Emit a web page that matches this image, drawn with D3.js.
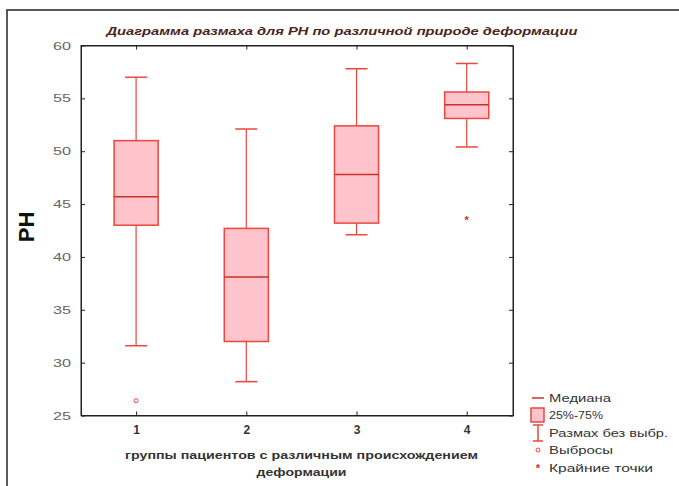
<!DOCTYPE html>
<html><head><meta charset="utf-8">
<script src="https://cdn.jsdelivr.net/npm/d3@7"></script>
<style>body{margin:0;background:#fff}svg{display:block}</style>
</head><body>
<svg id="c" width="679" height="486"></svg>
<script>
const groups = [1, 2, 3, 4];
const q1 = [43.0, 32.0, 43.2, 53.1];
const medians = [45.7, 38.1, 47.8, 54.4];
const q3 = [51.0, 42.7, 52.4, 55.6];
const whiskerLow = [31.6, 28.2, 42.1, 50.4];
const whiskerHigh = [57.0, 52.1, 57.8, 58.3];
const outliers = [[1, 26.4]];
const extremes = [[4, 43.5]];
const yTicks = [25, 30, 35, 40, 45, 50, 55, 60];
const title = "Диаграмма размаха для PH по различной природе деформации";
const yLabel = "PH";
const xLabelLines = ["группы пациентов с различным происхождением", "деформации"];
const legendItems = ["Медиана", "25%-75%", "Размах без выбр.", "Выбросы", "Крайние точки"];

// layout (text stretch widths as in the reference rendering)
const legendWidths = [62, 54, 119, 64, 104];
const xLabelWidths = [353, 90];

const svg = d3.select("#c");
const font = "'Liberation Sans', Arial, sans-serif";
const red = "#e8483e", fill = "#ffc3cb", dark = "#c8302a";
const L = 81, R = 513, T = 45.5, B = 415.5;
const x = d3.scaleLinear().domain([0.5, 4.42]).range([L, R]);
const y = d3.scaleLinear().domain([25, 60]).range([B, T]);

// outer frame
svg.append("path").attr("d", "M7,486 L7,10 L679,10").attr("fill", "none").attr("stroke", "#222").attr("stroke-width", 1.5);

// title
svg.append("text").attr("x", 342).attr("y", 35).attr("text-anchor", "middle")
  .attr("font-family", font).attr("font-size", 11).attr("font-style", "italic").attr("font-weight", "bold")
  .attr("textLength", 471).attr("lengthAdjust", "spacingAndGlyphs")
  .attr("fill", "#4a2420").text(title);

// axes with inner ticks
const ax = svg.append("g").attr("font-family", font);
const axLeft = d3.axisLeft(y).tickValues(yTicks).tickSizeInner(-4).tickSizeOuter(0).tickPadding(10);
const gl = ax.append("g").attr("transform", `translate(${L},0)`).call(axLeft);
gl.selectAll("text").attr("font-size", 11).attr("fill", "#666")
  .attr("textLength", 18).attr("lengthAdjust", "spacingAndGlyphs");
const axRight = d3.axisRight(y).tickValues(yTicks).tickSizeInner(-4).tickSizeOuter(0).tickFormat("");
ax.append("g").attr("transform", `translate(${R},0)`).call(axRight);
const axBottom = d3.axisBottom(x).tickValues(groups).tickSizeInner(-4).tickSizeOuter(0).tickPadding(10).tickFormat(d3.format("d"));
const gb = ax.append("g").attr("transform", `translate(0,${B})`).call(axBottom);
gb.selectAll("text").attr("font-size", 12).attr("font-weight", "bold").attr("fill", "#333");
const axTop = d3.axisTop(x).tickValues(groups).tickSizeInner(-4).tickSizeOuter(0).tickFormat("");
ax.append("g").attr("transform", `translate(0,${T})`).call(axTop);
ax.selectAll(".domain, .tick line").attr("stroke", "#222");
svg.append("rect").attr("x", L).attr("y", T).attr("width", R - L).attr("height", B - T)
  .attr("fill", "none").attr("stroke", "#222").attr("stroke-width", 1);

// y label
svg.append("text").attr("transform", `translate(34,227) rotate(-90)`).attr("text-anchor", "middle")
  .attr("font-family", font).attr("font-size", 22).attr("font-weight", "bold").attr("fill", "#111").text(yLabel);

// x label
xLabelLines.forEach((t, i) => {
  svg.append("text").attr("x", 301.5).attr("y", 459 + i * 16.5).attr("text-anchor", "middle")
    .attr("font-family", font).attr("font-size", 11).attr("font-weight", "bold").attr("fill", "#333")
    .attr("textLength", xLabelWidths[i]).attr("lengthAdjust", "spacingAndGlyphs").text(t);
});

// boxes
const bw = x(1.2) - x(1), cw = x(1.1) - x(1);
const g = svg.append("g");
groups.forEach((gr, i) => {
  const cx = x(gr);
  g.append("line").attr("x1", cx).attr("x2", cx).attr("y1", y(whiskerHigh[i])).attr("y2", y(q3[i])).attr("stroke", red).attr("stroke-width", 1.2);
  g.append("line").attr("x1", cx).attr("x2", cx).attr("y1", y(q1[i])).attr("y2", y(whiskerLow[i])).attr("stroke", red).attr("stroke-width", 1.2);
  g.append("line").attr("x1", cx - cw).attr("x2", cx + cw).attr("y1", y(whiskerHigh[i])).attr("y2", y(whiskerHigh[i])).attr("stroke", red).attr("stroke-width", 1.5);
  g.append("line").attr("x1", cx - cw).attr("x2", cx + cw).attr("y1", y(whiskerLow[i])).attr("y2", y(whiskerLow[i])).attr("stroke", red).attr("stroke-width", 1.5);
  g.append("rect").attr("x", cx - bw).attr("width", 2 * bw).attr("y", y(q3[i])).attr("height", y(q1[i]) - y(q3[i]))
    .attr("fill", fill).attr("stroke", red).attr("stroke-width", 1.5);
  g.append("line").attr("x1", cx - bw).attr("x2", cx + bw).attr("y1", y(medians[i])).attr("y2", y(medians[i])).attr("stroke", dark).attr("stroke-width", 1.5);
});
outliers.forEach(([gx, v]) => {
  g.append("circle").attr("cx", x(gx)).attr("cy", y(v)).attr("r", 2).attr("fill", "none").attr("stroke", red).attr("stroke-width", 1);
});
extremes.forEach(([gx, v]) => {
  g.append("text").attr("x", x(gx)).attr("y", y(v) + 4).attr("text-anchor", "middle").attr("font-family", font)
    .attr("font-size", 11).attr("font-weight", "bold").attr("fill", dark).text("*");
});

// legend
const lg = svg.append("g").attr("font-family", font).attr("font-size", 11).attr("fill", "#333");
const ly = [398, 415, 433, 450, 468];
const sx = 538;
lg.append("line").attr("x1", sx - 6).attr("x2", sx + 6).attr("y1", ly[0]).attr("y2", ly[0]).attr("stroke", dark).attr("stroke-width", 1.5);
lg.append("rect").attr("x", 531).attr("y", ly[1] - 7).attr("width", 13).attr("height", 14).attr("fill", fill).attr("stroke", red).attr("stroke-width", 1.5);
lg.append("path").attr("d", `M${sx - 5},${ly[2] - 8}H${sx + 5}M${sx},${ly[2] - 8}V${ly[2] + 8}M${sx - 5},${ly[2] + 8}H${sx + 5}`)
  .attr("stroke", red).attr("stroke-width", 1.5).attr("fill", "none");
lg.append("circle").attr("cx", sx).attr("cy", ly[3]).attr("r", 2).attr("fill", "none").attr("stroke", red);
lg.append("text").attr("x", sx).attr("y", ly[4] + 4).attr("text-anchor", "middle").attr("font-weight", "bold").attr("fill", dark).text("*");
legendItems.forEach((t, i) => {
  lg.append("text").attr("x", 549).attr("y", ly[i] + 4)
    .attr("textLength", legendWidths[i]).attr("lengthAdjust", "spacingAndGlyphs").text(t);
});
</script>
</body></html>
